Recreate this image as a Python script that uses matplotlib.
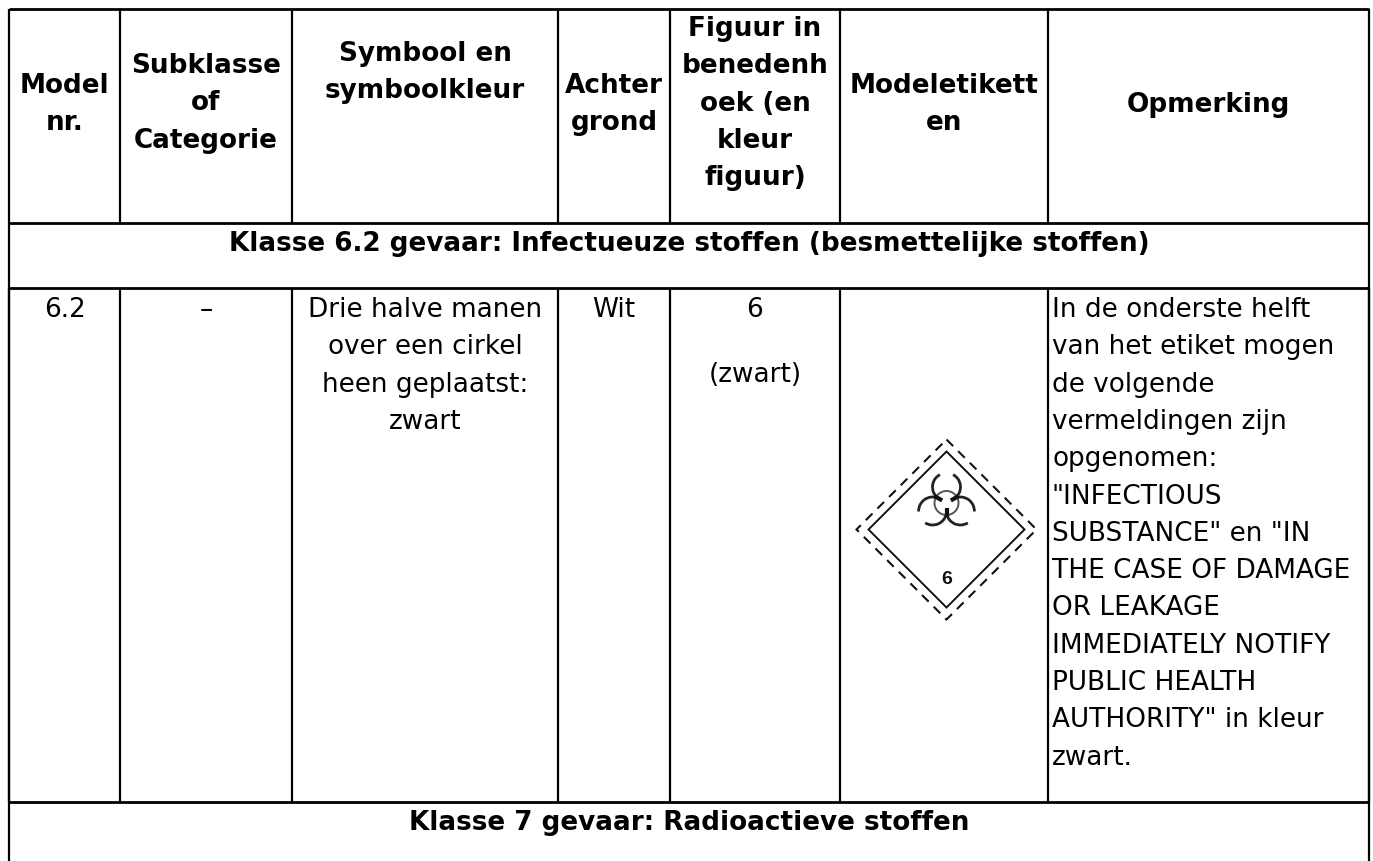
import numpy as np
import matplotlib
matplotlib.use("Agg")
import matplotlib.pyplot as plt
from matplotlib.patches import Arc, Circle, Polygon

W, H = 1373, 861
col_edges = [9, 120, 292, 558, 670, 840, 1048, 1369]
row_edges = [9, 223, 288, 802, 861]
header_labels = [
    ["Model", "nr."],
    ["Subklasse", "of", "Categorie"],
    ["Symbool en", "symboolkleur"],
    ["Achter", "grond"],
    ["Figuur in", "benedenh", "oek (en", "kleur", "figuur)"],
    ["Modeletikett", "en"],
    ["Opmerking"],
]
header_base = [93, 73, 61, 93, 36, 93, 112]
section_labels = ["Klasse 6.2 gevaar: Infectueuze stoffen (besmettelijke stoffen)",
                  "Klasse 7 gevaar: Radioactieve stoffen"]
section_base = [251, 830]
model_nr = "6.2"
subklasse = "–"
symbool = ["Drie halve manen", "over een cirkel", "heen geplaatst:", "zwart"]
achtergrond = "Wit"
figuur = ["6", "(zwart)"]
figuur_base = [317, 382]
opmerking = ["In de onderste helft", "van het etiket mogen", "de volgende",
             "vermeldingen zijn", "opgenomen:", "\"INFECTIOUS",
             "SUBSTANCE\" en \"IN", "THE CASE OF DAMAGE", "OR LEAKAGE",
             "IMMEDIATELY NOTIFY", "PUBLIC HEALTH", "AUTHORITY\" in kleur", "zwart."]

LH = 37.3
FS = 18.9
BODY_BASE = 317
plt.rcParams["font.family"] = ["DejaVu Sans"]
fig = plt.figure(figsize=(W / 100, H / 100), dpi=100)
ax = fig.add_axes([0, 0, 1, 1])
ax.set_xlim(0, W)
ax.set_ylim(H, 0)
ax.axis("off")

LW = 1.6
def hl(y, a=col_edges[0], b=col_edges[-1], lw=LW):
    ax.plot([a, b], [y, y], color="k", lw=lw, solid_capstyle="butt")
def vl(x, a, b, lw=LW):
    ax.plot([x, x], [a, b], color="k", lw=lw, solid_capstyle="butt")

for y in row_edges[:-1]:
    hl(y, lw=2)
for x in col_edges:
    vl(x, row_edges[0], row_edges[1])
    vl(x, row_edges[2], row_edges[3])
vl(col_edges[0], row_edges[1], row_edges[4])
vl(col_edges[-1], row_edges[1], row_edges[4])

centers = [(col_edges[i] + col_edges[i + 1]) / 2 for i in range(7)]
txt = dict(va="baseline", fontsize=FS, color="k")
for cx, lines, y0 in zip(centers, header_labels, header_base):
    for i, s in enumerate(lines):
        ax.text(cx, y0 + i * LH, s, ha="center", fontweight="bold", **txt)
mid = (col_edges[0] + col_edges[-1]) / 2
for s, y in zip(section_labels, section_base):
    ax.text(mid, y, s, ha="center", fontweight="bold", **txt)

ax.text(centers[0], BODY_BASE, model_nr, ha="center", **txt)
ax.text(centers[1], BODY_BASE, subklasse, ha="center", **txt)
for i, s in enumerate(symbool):
    ax.text(centers[2], BODY_BASE + i * LH, s, ha="center", **txt)
ax.text(centers[3], BODY_BASE, achtergrond, ha="center", **txt)
for s, y in zip(figuur, figuur_base):
    ax.text(centers[4], y, s, ha="center", **txt)
for i, s in enumerate(opmerking):
    ax.text(col_edges[6] + 4, BODY_BASE + i * LH, s, ha="left", **txt)

# Label diamond in the Modeletiketten column
dcx, dcy = 946.5, 529.5
outer = 90
inner = 78
ax.add_patch(Polygon([(dcx, dcy - inner), (dcx + inner, dcy), (dcx, dcy + inner), (dcx - inner, dcy)],
                     closed=True, fill=False, ec="#111111", lw=1.4))
ax.add_patch(Polygon([(dcx, dcy - outer), (dcx + outer, dcy), (dcx, dcy + outer), (dcx - outer, dcy)],
                     closed=True, fill=False, ec="#111111", lw=1.5, ls=(0, (4.5, 3.4))))
ax.text(dcx, dcy + 54, "6", ha="center", va="baseline", fontsize=14, fontweight="bold",
        family="Liberation Sans", color="#111111")
# biohazard symbol: three open crescents, a central ring and inward spurs
bx, by = dcx, 503
d, r, ring = 16, 14, 12
for ang in (90, 210, 330):
    a = np.deg2rad(ang)
    cx, cy = bx + d * np.cos(a), by - d * np.sin(a)
    out = -ang  # y axis is inverted, so arcs are measured clockwise on screen
    ax.add_patch(Arc((cx, cy), 2 * r, 2 * r, theta1=out + 28, theta2=out + 140, color="#222222", lw=2.0))
    ax.add_patch(Arc((cx, cy), 2 * r, 2 * r, theta1=out - 140, theta2=out - 28, color="#222222", lw=2.0))
    b = a + np.pi
    ax.plot([bx + 5 * np.cos(b), bx + 14 * np.cos(b)], [by - 5 * np.sin(b), by - 14 * np.sin(b)],
            color="#111111", lw=3.0, solid_capstyle="butt")
ax.add_patch(Circle((bx, by), ring, fill=False, ec="#555555", lw=1.4))

fig.savefig("out.png", dpi=100, facecolor="white")
